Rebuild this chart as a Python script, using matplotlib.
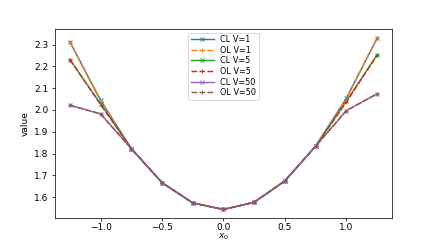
import matplotlib
matplotlib.use("Agg")
import matplotlib.pyplot as plt
import numpy as np

x0 = [-1.25, -1.0, -0.75, -0.5, -0.25, 0.0, 0.25, 0.5, 0.75, 1.0, 1.25]
cl_v1 = [2.312, 2.045, 1.823, 1.667, 1.574, 1.544, 1.577, 1.675, 1.834, 2.054, 2.328]
ol_v1 = [2.312, 2.040, 1.823, 1.667, 1.574, 1.544, 1.577, 1.675, 1.834, 2.050, 2.330]
cl_v5 = [2.231, 2.028, 1.823, 1.667, 1.574, 1.544, 1.577, 1.675, 1.834, 2.040, 2.253]
ol_v5 = [2.231, 2.025, 1.823, 1.667, 1.574, 1.544, 1.577, 1.675, 1.834, 2.036, 2.250]
cl_v50 = [2.022, 1.982, 1.823, 1.667, 1.574, 1.544, 1.577, 1.675, 1.834, 1.997, 2.074]
ol_v50 = [2.022, 1.982, 1.823, 1.667, 1.574, 1.544, 1.577, 1.675, 1.834, 1.997, 2.074]

series = [
    ("CL V=1", cl_v1, "x", "-"),
    ("OL V=1", ol_v1, "+", "--"),
    ("CL V=5", cl_v5, "x", "-"),
    ("OL V=5", ol_v5, "+", "--"),
    ("CL V=50", cl_v50, "x", "-"),
    ("OL V=50", ol_v50, "+", "--"),
]

DPI = 65
fig, ax = plt.subplots(figsize=(436 / DPI, 245 / DPI), dpi=DPI)
fig.subplots_adjust(left=0.125, right=0.9, bottom=0.11, top=0.88)
for label, vals, m, ls in series:
    ax.plot(x0, vals, marker=m, linestyle=ls, label=label, linewidth=1.6, markersize=5,
            dashes=(4, 1.5) if ls == "--" else (None, None))
ax.set_xlabel(r"$x_0$", labelpad=0)
ax.set_ylabel("value")
ax.tick_params(axis="x", pad=2, length=3)
ax.tick_params(axis="y", length=3.5)
ax.legend(loc="upper center", fontsize=9, labelspacing=0.2, borderpad=0.3,
          handlelength=2.8, borderaxespad=0.4)
fig.savefig("out.png", dpi=DPI)
